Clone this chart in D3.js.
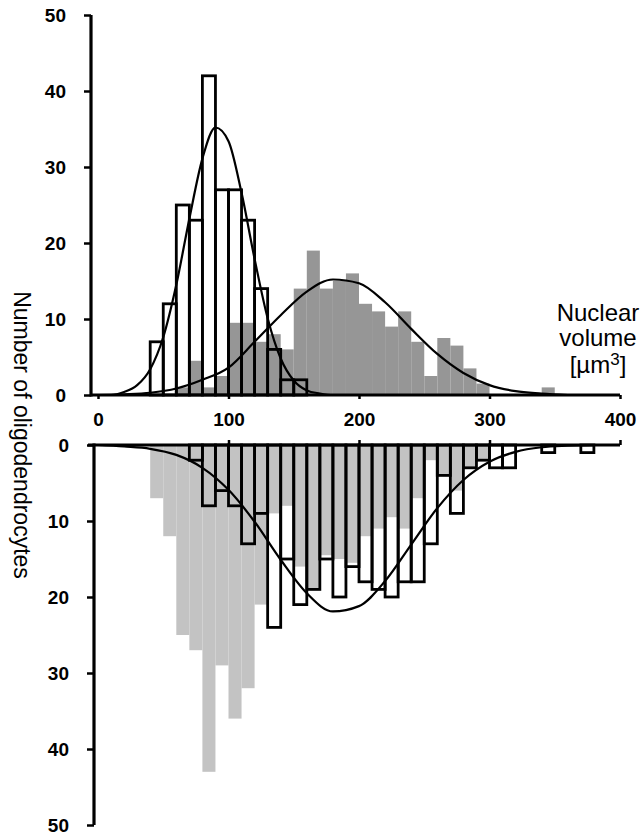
<!DOCTYPE html>
<html>
<head>
<meta charset="utf-8">
<script src="https://cdn.jsdelivr.net/npm/d3@7"></script>
<style>
  body { margin: 0; background: #fff; }
  svg { display: block; font-family: "Liberation Sans", Arial, sans-serif; }
</style>
</head>
<body>
<div id="viscontainer"></div>
<script>
// lower edge of each 10 µm³ bin
const binStarts = [0, 10, 20, 30, 40, 50, 60, 70, 80, 90, 100, 110, 120, 130, 140, 150, 160, 170, 180, 190,
  200, 210, 220, 230, 240, 250, 260, 270, 280, 290, 300, 310, 320, 330, 340, 350, 360, 370, 380, 390];

// upper histogram: open bars and dark grey bars
const topOpen = [0, 0, 0, 0, 7, 12, 25, 23, 42, 27, 27, 23, 14, 6, 2, 2, 0, 0, 0, 0,
  0, 0, 0, 0, 0, 0, 0, 0, 0, 0, 0, 0, 0, 0, 0, 0, 0, 0, 0, 0];
const topFilled = [0, 0, 0, 0, 0, 0, 1, 4.5, 1, 2.5, 9.5, 9.5, 7, 8, 6, 14, 19, 14, 15, 16,
  12, 11, 9, 11, 7, 2.5, 7.5, 6.5, 3.5, 1.5, 0, 0, 0, 0, 1, 0, 0, 0, 0, 0];

// lower (mirrored) histogram: open bars and light grey bars
const bottomOpen = [0, 0, 0, 0, 0, 0, 0, 2, 8, 6, 8, 13, 9, 24, 15, 21, 19, 15, 20, 16,
  18, 19, 20, 18, 18, 13, 4, 9, 3, 2, 3, 3, 0, 0, 1, 0, 0, 1, 0, 0];
const bottomFilled = [0, 0, 0, 0, 7, 12, 25, 27, 43, 29, 36, 32, 21, 9, 8, 16, 19, 14.5, 15, 15.5,
  12, 11, 9.5, 11, 7, 2, 4, 6, 3, 2, 0, 0, 0, 0, 0, 0, 0, 0, 0, 0];

// fitted curves: [volume, count]
const topNarrowFit = [[0, 0], [10, 0], [20, 0.4], [30, 1.3], [40, 3.4], [50, 7.6], [60, 14.5], [70, 23.2],
  [80, 31.1], [90, 35.2], [100, 33.4], [110, 26.6], [120, 17.9], [130, 10.1], [140, 4.8], [150, 1.9],
  [160, 0.6], [170, 0.2], [180, 0], [200, 0]];
const topWideFit = [[0, 0], [20, 0.1], [40, 0.3], [60, 0.85], [80, 2.0], [100, 3.6], [120, 7.0], [140, 10.5],
  [160, 13.6], [180, 15.2], [200, 14.7], [220, 12.2], [240, 8.7], [260, 5.4], [280, 2.9], [300, 1.3],
  [320, 0.5], [340, 0.2], [360, 0]];
const bottomFit = [[0, 0], [20, 0.2], [40, 0.5], [60, 1.3], [80, 3.0], [100, 5.9], [120, 10.1], [140, 15.1],
  [160, 19.5], [180, 21.9], [200, 21.2], [220, 17.9], [240, 13.1], [260, 8.3], [280, 4.6], [300, 2.2],
  [320, 0.9], [340, 0.3], [360, 0.1], [380, 0]];

const xTicks = [0, 100, 200, 300, 400];
const yTicks = [0, 10, 20, 30, 40, 50];
const binWidth = 10;

function makeVis() {
  const width = 643;
  const height = 838;
  const topAxisX = 91;
  const bottomAxisX = 94;

  const svg = d3.create("svg").attr("width", width).attr("height", height);
  viscontainer.append(svg.node());

  const x = d3.scaleLinear().domain([0, 400]).range([98, 620]);
  const yTop = d3.scaleLinear().domain([0, 50]).range([395, 15]);
  const yBot = d3.scaleLinear().domain([0, 50]).range([445, 825]);

  const bins = (vals) => binStarts.map((b, i) => ({ b, v: vals[i] })).filter((d) => d.v > 0);

  // grey bars first, open bars drawn over them
  svg.append("g").selectAll("rect").data(bins(topFilled)).join("rect")
    .attr("x", (d) => x(d.b))
    .attr("width", (d) => x(d.b + binWidth) - x(d.b))
    .attr("y", (d) => yTop(d.v))
    .attr("height", (d) => yTop(0) - yTop(d.v))
    .attr("fill", "#969696");

  svg.append("g").selectAll("rect").data(bins(bottomFilled)).join("rect")
    .attr("x", (d) => x(d.b))
    .attr("width", (d) => x(d.b + binWidth) - x(d.b))
    .attr("y", yBot(0))
    .attr("height", (d) => yBot(d.v) - yBot(0))
    .attr("fill", "#c3c3c3");

  svg.append("g").selectAll("rect").data(bins(topOpen)).join("rect")
    .attr("x", (d) => x(d.b))
    .attr("width", (d) => x(d.b + binWidth) - x(d.b))
    .attr("y", (d) => yTop(d.v))
    .attr("height", (d) => yTop(0) - yTop(d.v))
    .attr("fill", "none")
    .attr("stroke", "#000")
    .attr("stroke-width", 2.8);

  svg.append("g").selectAll("rect").data(bins(bottomOpen)).join("rect")
    .attr("x", (d) => x(d.b))
    .attr("width", (d) => x(d.b + binWidth) - x(d.b))
    .attr("y", yBot(0))
    .attr("height", (d) => yBot(d.v) - yBot(0))
    .attr("fill", "none")
    .attr("stroke", "#000")
    .attr("stroke-width", 2.8);

  // fitted curves
  const lineTop = d3.line().x((d) => x(d[0])).y((d) => yTop(d[1])).curve(d3.curveMonotoneX);
  const lineBot = d3.line().x((d) => x(d[0])).y((d) => yBot(d[1])).curve(d3.curveMonotoneX);
  [topNarrowFit, topWideFit].forEach((pts) => {
    svg.append("path").attr("d", lineTop(pts))
      .attr("fill", "none").attr("stroke", "#000").attr("stroke-width", 2.2);
  });
  svg.append("path").attr("d", lineBot(bottomFit))
    .attr("fill", "none").attr("stroke", "#000").attr("stroke-width", 2.2);

  // axes
  const styleAxis = (g) => {
    g.select(".domain").remove();
    g.selectAll(".tick line").attr("stroke", "#000").attr("stroke-width", 2.5);
    g.selectAll(".tick text")
      .attr("fill", "#000")
      .attr("font-size", 19)
      .attr("font-weight", "bold")
      .attr("font-family", "'Liberation Sans', Arial, sans-serif");
  };

  svg.append("g")
    .attr("transform", `translate(${topAxisX},0)`)
    .call(d3.axisLeft(yTop).tickValues(yTicks).tickSize(7).tickPadding(18))
    .call(styleAxis);
  svg.append("g")
    .attr("transform", `translate(${bottomAxisX},0)`)
    .call(d3.axisLeft(yBot).tickValues(yTicks).tickSize(7).tickPadding(18))
    .call(styleAxis);
  svg.append("g")
    .attr("transform", `translate(0,${yTop(0)})`)
    .call(d3.axisBottom(x).tickValues(xTicks).tickSize(4).tickPadding(14))
    .call(styleAxis);
  svg.append("g")
    .attr("transform", `translate(0,${yBot(0)})`)
    .call(d3.axisTop(x).tickValues(xTicks.slice(1)).tickSize(5).tickFormat(""))
    .call(styleAxis);

  const axisLine = (x1, y1, x2, y2) =>
    svg.append("line").attr("x1", x1).attr("y1", y1).attr("x2", x2).attr("y2", y2)
      .attr("stroke", "#000").attr("stroke-width", 3.2);
  axisLine(topAxisX, yTop.range()[1], topAxisX, yTop(0) + 1.5);
  axisLine(topAxisX, yTop(0), x.range()[1], yTop(0));
  axisLine(bottomAxisX, yBot(0) - 1.5, bottomAxisX, yBot.range()[1]);
  axisLine(topAxisX - 3, yBot(0), x.range()[1], yBot(0));

  // titles
  svg.append("text")
    .attr("transform", "translate(22,435) rotate(90)")
    .attr("text-anchor", "middle")
    .attr("dominant-baseline", "central")
    .attr("font-size", 23)
    .text("Number of oligodendrocytes");

  const unit = svg.append("text")
    .attr("text-anchor", "middle")
    .attr("font-size", 24);
  unit.append("tspan").attr("x", 598).attr("y", 321).text("Nuclear");
  unit.append("tspan").attr("x", 598).attr("y", 346).text("volume");
  const last = unit.append("tspan").attr("x", 598).attr("y", 373);
  last.append("tspan").text("[µm");
  last.append("tspan").attr("dy", -8).attr("font-size", 17).text("3");
  last.append("tspan").attr("dy", 8).text("]");
}

makeVis();
</script>
</body>
</html>
